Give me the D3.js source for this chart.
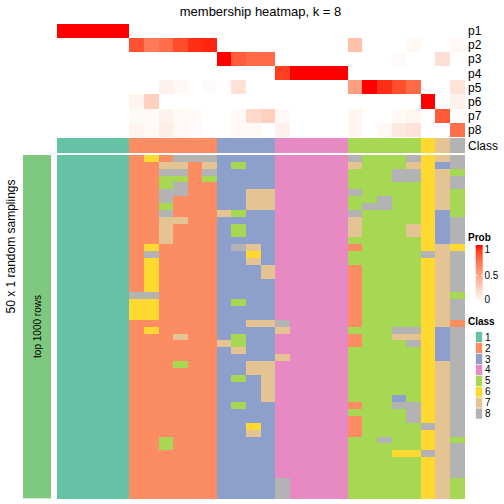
<!DOCTYPE html>
<html><head><meta charset="utf-8">
<script src="https://cdn.jsdelivr.net/npm/d3@7"></script>
<style>body{margin:0;background:#fff}svg{display:block;font-family:"Liberation Sans",Arial,sans-serif}.hm rect{shape-rendering:crispEdges}</style>
</head><body><svg id="c" width="504" height="504"></svg>
<script>
const classes = [1,1,1,1,1,2,2,2,2,2,2,3,3,3,3,4,4,4,4,4,5,5,5,5,5,6,7,8];
const probLabels = ["p1","p2","p3","p4","p5","p6","p7","p8"];
const p1 = [1,1,1,1,1, 0,0,0,0,0,0, 0,0,0,0, 0,0,0,0,0, 0,0,0,0,0, 0,0,0];
const p2 = [0,0,0,0,0, .84,.67,.73,.86,.94,.96, 0,0,0,0, 0,0,0,0,0, .33,0,0,0,.04, 0,0,.04];
const p3 = [0,0,0,0,0, 0,0,0,0,0,0, 1,.8,.74,.74, 0,0,0,0,0, 0,0,0,.02,0, 0,.17,0];
const p4 = [0,0,0,0,0, 0,0,0,0,0,0, 0,0,0,0, .9,1,1,1,1, 0,0,0,0,0, 0,0,0];
const p5 = [0,0,0,0,0, 0,0,.07,.04,0,.02, 0,.16,0,0, 0,0,0,0,0, .5,1,.94,.85,.74, 0,0,.15];
const p6 = [0,0,0,0,0, .06,.25,0,0,0,0, 0,0,0,0, 0,0,0,0,0, 0,0,0,0,0, 1,0,.07];
const p7 = [0,0,0,0,0, .03,.03,.07,.04,.03,0, 0,.03,.2,.25, .04,0,0,0,0, .05,0,0,.03,.05, 0,.81,0];
const p8 = [0,0,0,0,0, .06,.04,.09,.04,.02,0, 0,.03,.04,0, .07,0,0,0,0, .05,0,.04,.12,.15, 0,0,.72];
const probRows = [p1,p2,p3,p4,p5,p6,p7,p8];
// 50 random samplings: class of each of the 28 samples
const samplings = [
"1111126288833334444485558678",
"1111122772735334444475557638",
"1111122882833334444455588675",
"1111122552533334444455588678",
"1111122582233334444455555678",
"1111122882233774444485555675",
"1111122822233774444455855675",
"1111122522233774444458855675",
"1111122822275334444485555635",
"1111122772233334444475555638",
"1111122722235334444475557638",
"1111122722235334444475557638",
"1111122722233334444455555638",
"1111126222238734444425555676",
"1111128222233634444455555878",
"1111126222233734444455555678",
"1111126222233374444425555678",
"1111126222233374444425555678",
"1111126222233334444425555678",
"1111126222233334444425555678",
"1111188222233334444425555675",
"1111166222235334444425555678",
"1111166222233334444425555678",
"1111166222233334444425555678",
"1111122222233778444425555672",
"1111126222233337444455588638",
"1111122272235334444425577638",
"1111122222275334444425558638",
"1111122222237334444455555638",
"1111122222233337444455555638",
"1111122252233774444455555678",
"1111122222233774444455555678",
"1111122222235374444455555678",
"1111122222233374444455555678",
"1111122222233374444455555678",
"1111122222233374444455535678",
"1111122222235334444425588678",
"1111122222233334444455558678",
"1111122222233334444425558678",
"1111122222233634444425555878",
"1111122222233734444425555678",
"1111122522233334444455855675",
"1111122522233334444455555678",
"1111122222233334444455566878",
"1111122222233334444455555678",
"1111122222233334444455555678",
"1111122222233334444455555678",
"1111122222233338444455555675",
"1111122222233338444455555675",
"1111122222233338444455555675"
];
const legendClasses = ["1","2","3","4","5","6","7","8"];
const probTicks = [0, 0.5, 1];

const classColors = ["#66C2A5","#FC8D62","#8DA0CB","#E78AC3","#A6D854","#FFD92F","#E5C494","#B3B3B3"];
const cColor = d3.scaleOrdinal().domain(legendClasses).range(classColors);
const pColor = d3.scaleLinear().domain([0,1]).range(["#ffffff","#ff0000"]).interpolate(d3.interpolateLab);

const svg = d3.select("#c");
const cols = d3.range(classes.length);
const x = d3.scaleBand().domain(cols).range([56.7, 464.3]);
const yP = d3.scaleBand().domain(probLabels).range([23.8, 136.8]);
const rowsIdx = d3.range(samplings.length);
const yS = d3.scaleBand().domain(rowsIdx).range([155, 498.3]);

svg.append("text").attr("x", 260.5).attr("y", 15.5).attr("text-anchor","middle")
  .attr("font-size", 13).text("membership heatmap, k = 8");

const hm = svg.append("g").attr("class", "hm");
// probability rows
probRows.forEach((row, i) => {
  hm.append("g").selectAll("rect").data(row).join("rect")
    .attr("x", (d,j) => x(j)).attr("width", x.bandwidth() + 0.3)
    .attr("y", yP(probLabels[i])).attr("height", yP.bandwidth() + 0.3)
    .attr("fill", d => pColor(d));
});
svg.append("g").selectAll("text").data(probLabels).join("text")
  .attr("x", 468).attr("y", d => yP(d) + yP.bandwidth()/2 + 4.3)
  .attr("font-size", 12).text(d => d);

// class row
hm.append("g").selectAll("rect").data(classes).join("rect")
  .attr("x", (d,j) => x(j)).attr("width", x.bandwidth() + 0.3)
  .attr("y", 138.3).attr("height", 14.7)
  .attr("fill", d => cColor(String(d)));
svg.append("text").attr("x", 468).attr("y", 150).attr("font-size", 12).text("Class");

// samplings heatmap
samplings.forEach((s, r) => {
  hm.append("g").selectAll("rect").data(s.split("")).join("rect")
    .attr("x", (d,j) => x(j)).attr("width", x.bandwidth() + 0.3)
    .attr("y", yS(r)).attr("height", yS.bandwidth() + 0.3)
    .attr("fill", d => cColor(d));
});

// left annotation
svg.append("rect").attr("x", 23).attr("y", 155).attr("width", 28).attr("height", 343.3).attr("fill", "#7FC97F");
svg.append("text").attr("transform", "translate(40.5,326.5) rotate(-90)").attr("text-anchor","middle")
  .attr("font-size", 10).text("top 1000 rows");
svg.append("text").attr("transform", "translate(15,246.5) rotate(-90)").attr("text-anchor","middle")
  .attr("font-size", 12).text("50 x 1 random samplings");

// Prob legend
svg.append("text").attr("x", 468).attr("y", 241).attr("font-size", 10).attr("font-weight","bold").text("Prob");
const defs = svg.append("defs");
const grad = defs.append("linearGradient").attr("id","pg").attr("x1",0).attr("y1",1).attr("x2",0).attr("y2",0);
d3.range(0, 1.01, 0.1).forEach(t => grad.append("stop").attr("offset", t).attr("stop-color", pColor(t)));
const yL = d3.scaleLinear().domain([0,1]).range([302, 249]);
svg.append("rect").attr("x", 475.7).attr("y", 245).attr("width", 7).attr("height", 57).attr("fill", "url(#pg)");
svg.append("g").selectAll("line").data([0.5]).join("line")
  .attr("x1", 475.7).attr("x2", 477.2).attr("y1", d => yL(d)).attr("y2", d => yL(d)).attr("stroke","#fff");
svg.append("g").selectAll("line").data([0.5]).join("line")
  .attr("x1", 481.2).attr("x2", 482.7).attr("y1", d => yL(d)).attr("y2", d => yL(d)).attr("stroke","#fff");
svg.append("g").selectAll("text").data(probTicks).join("text")
  .attr("x", 484.5).attr("y", d => Math.min(yL(d), 299) + 3.5).attr("font-size", 10).text(d => d);

// Class legend
svg.append("text").attr("x", 468).attr("y", 324.5).attr("font-size", 10).attr("font-weight","bold").text("Class");
const yC = d3.scaleBand().domain(legendClasses).range([331.7, 419]);
svg.append("g").selectAll("rect").data(legendClasses).join("rect")
  .attr("x", 475.7).attr("y", d => yC(d)).attr("width", 6.7).attr("height", yC.bandwidth())
  .attr("fill", d => cColor(d)).attr("stroke", "#fff").attr("stroke-width", 0.5);
svg.append("g").selectAll("text").data(legendClasses).join("text")
  .attr("x", 485).attr("y", d => yC(d) + yC.bandwidth()/2 + 3.6).attr("font-size", 10).text(d => d);
</script></body></html>
